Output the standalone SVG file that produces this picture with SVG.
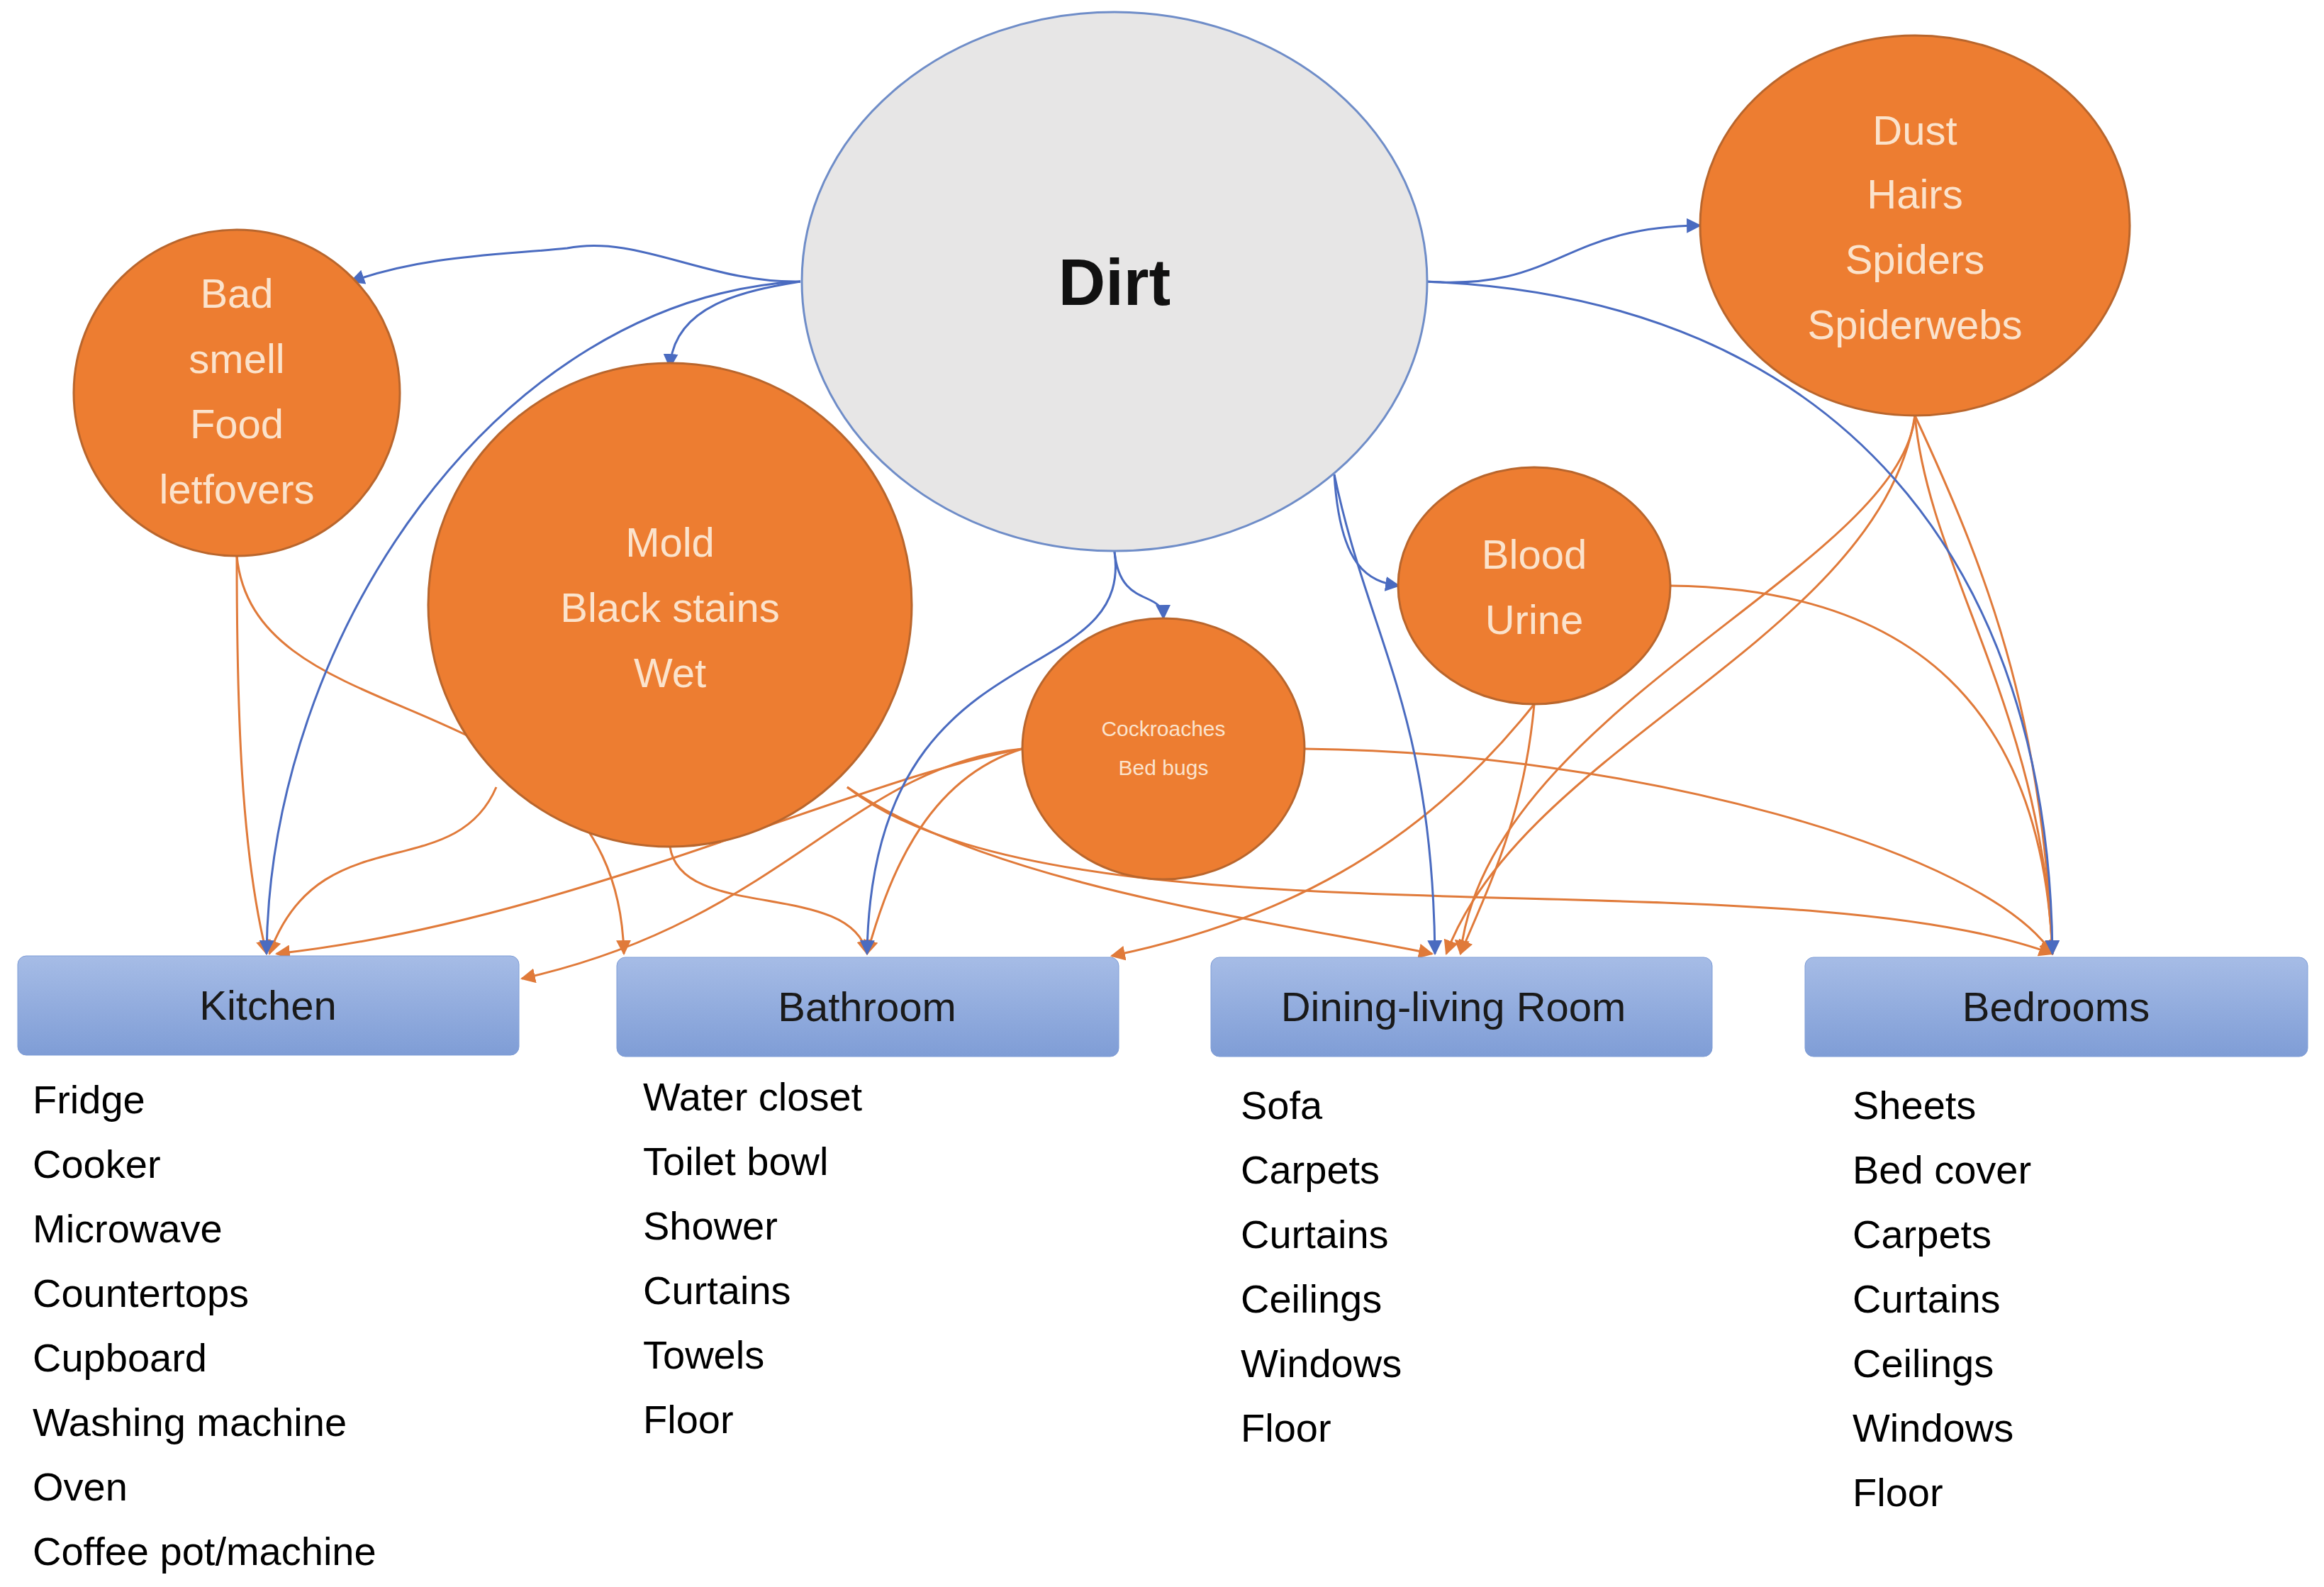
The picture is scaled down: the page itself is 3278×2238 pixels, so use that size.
<svg xmlns="http://www.w3.org/2000/svg" width="3278" height="2238" viewBox="0 0 3278 2238">
<style>
.o{fill:#ed7d31;stroke:#b9662d;stroke-width:3}
.ot{font-family:"Liberation Sans",Arial,sans-serif;font-size:58px;fill:#fbe3cc;text-anchor:middle}
.b{fill:#8eaadb;stroke:#6f8dc8;stroke-width:3}
.bt{font-family:"Liberation Sans",Arial,sans-serif;font-size:58px;fill:#1a1a1a;text-anchor:middle}
.lt{font-family:"Liberation Sans",Arial,sans-serif;font-size:56px;fill:#000}
.cb{fill:none;stroke:#4a6bc0;stroke-width:3;marker-end:url(#ab)}
.co{fill:none;stroke:#e07a3a;stroke-width:3;marker-end:url(#ao)}
</style>
<defs>
<marker id="ab" viewBox="0 0 10 10" refX="9" refY="5" markerWidth="7" markerHeight="7" orient="auto"><path d="M0,0L10,5L0,10z" fill="#4a6bc0"/></marker>
<marker id="ao" viewBox="0 0 10 10" refX="9" refY="5" markerWidth="7" markerHeight="7" orient="auto"><path d="M0,0L10,5L0,10z" fill="#e07a3a"/></marker>
<linearGradient id="g" x1="0" y1="0" x2="0" y2="1"><stop offset="0" stop-color="#a6bce6"/><stop offset="1" stop-color="#7f9dd6"/></linearGradient>
</defs>
<rect width="3278" height="2238" fill="#fff"/>
<g id="connectors">
<path class="co" d="M334,784 C334,1000 340,1200 376,1345"/>
<path class="co" d="M334,784 C360,1050 870,950 880,1345"/>
<path class="co" d="M700,1110 C640,1250 450,1150 380,1345"/>
<path class="co" d="M945,1194 C960,1300 1200,1240 1223,1345"/>
<path class="co" d="M1195,1110 C1400,1250 1800,1300 2020,1345"/>
<path class="co" d="M1195,1110 C1500,1350 2500,1200 2895,1345"/>
<path class="co" d="M1442,1056 C1200,1080 1100,1300 736,1380"/>
<path class="co" d="M1442,1056 C1300,1100 1250,1250 1223,1345"/>
<path class="co" d="M1840,1056 C2300,1060 2800,1200 2895,1345"/>
<path class="co" d="M1442,1056 C1200,1100 800,1300 390,1345"/>
<path class="co" d="M2164,993 C2150,1150 2100,1250 2060,1345"/>
<path class="co" d="M2356,826 C2700,830 2880,1000 2895,1345"/>
<path class="co" d="M2164,993 C2000,1200 1800,1300 1568,1348"/>
<path class="co" d="M2701,586 C2680,800 2100,1000 2060,1345"/>
<path class="co" d="M2701,586 C2650,900 2150,1050 2040,1345"/>
<path class="co" d="M2701,586 C2720,800 2880,1000 2895,1345"/>
<path class="co" d="M2701,586 C2800,800 2880,1000 2895,1345"/>
<path class="cb" d="M1129,397 C1000,400 900,330 800,350 C700,360 600,360 495,397"/>
<path class="cb" d="M1129,397 C1050,410 950,430 945,518"/>
<path class="cb" d="M1129,397 C700,420 380,900 376,1345"/>
<path class="cb" d="M1572,778 C1600,980 1230,880 1223,1345"/>
<path class="cb" d="M1572,778 C1580,860 1640,830 1641,872"/>
<path class="cb" d="M1882,669 C1890,800 1930,820 1973,826"/>
<path class="cb" d="M1882,669 C1930,900 2020,1000 2024,1345"/>
<path class="cb" d="M2011,397 C2200,410 2200,320 2398,318"/>
<path class="cb" d="M2011,397 C2600,420 2890,800 2895,1345"/>
</g>
<g id="dirt"><ellipse cx="1572" cy="397" rx="441" ry="380" fill="#e7e6e6" stroke="#6f8dc8" stroke-width="3"/><text x="1572" y="430" font-family="Liberation Sans,Arial,sans-serif" font-size="92" font-weight="bold" text-anchor="middle" fill="#111">Dirt</text></g>
<g id="badsmell"><circle class="o" cx="334" cy="554" r="230"/><text class="ot" x="334" y="434">Bad</text><text class="ot" x="334" y="526">smell</text><text class="ot" x="334" y="618">Food</text><text class="ot" x="334" y="710">letfovers</text></g>
<g id="mold"><circle class="o" cx="945" cy="853" r="341"/><text class="ot" x="945" y="785">Mold</text><text class="ot" x="945" y="877">Black stains</text><text class="ot" x="945" y="969">Wet</text></g>
<g id="cockroach"><ellipse class="o" cx="1641" cy="1056" rx="199" ry="184"/><text class="ot" style="font-size:30px" x="1641" y="1038">Cockroaches</text><text class="ot" style="font-size:30px" x="1641" y="1093">Bed bugs</text></g>
<g id="blood"><ellipse class="o" cx="2164" cy="826" rx="192" ry="167"/><text class="ot" x="2164" y="802">Blood</text><text class="ot" x="2164" y="894">Urine</text></g>
<g id="dust"><ellipse class="o" cx="2701" cy="318" rx="303" ry="268"/><text class="ot" x="2701" y="204">Dust</text><text class="ot" x="2701" y="294">Hairs</text><text class="ot" x="2701" y="386">Spiders</text><text class="ot" x="2701" y="478">Spiderwebs</text></g>
<g id="kitchen"><rect x="25" y="1348" width="707" height="140" rx="12" fill="url(#g)" stroke="#7f9dd6"/><text class="bt" x="378" y="1438">Kitchen</text>
<text class="lt" x="46" y="1570">Fridge</text><text class="lt" x="46" y="1661">Cooker</text><text class="lt" x="46" y="1752">Microwave</text><text class="lt" x="46" y="1843">Countertops</text><text class="lt" x="46" y="1934">Cupboard</text><text class="lt" x="46" y="2025">Washing machine</text><text class="lt" x="46" y="2116">Oven</text><text class="lt" x="46" y="2207">Coffee pot/machine</text></g>
<g id="bathroom"><rect x="870" y="1350" width="708" height="140" rx="12" fill="url(#g)" stroke="#7f9dd6"/><text class="bt" x="1223" y="1440">Bathroom</text>
<text class="lt" x="907" y="1566">Water closet</text><text class="lt" x="907" y="1657">Toilet bowl</text><text class="lt" x="907" y="1748">Shower</text><text class="lt" x="907" y="1839">Curtains</text><text class="lt" x="907" y="1930">Towels</text><text class="lt" x="907" y="2021">Floor</text></g>
<g id="dining"><rect x="1708" y="1350" width="707" height="140" rx="12" fill="url(#g)" stroke="#7f9dd6"/><text class="bt" x="2050" y="1440">Dining-living Room</text>
<text class="lt" x="1750" y="1578">Sofa</text><text class="lt" x="1750" y="1669">Carpets</text><text class="lt" x="1750" y="1760">Curtains</text><text class="lt" x="1750" y="1851">Ceilings</text><text class="lt" x="1750" y="1942">Windows</text><text class="lt" x="1750" y="2033">Floor</text></g>
<g id="bedrooms"><rect x="2546" y="1350" width="709" height="140" rx="12" fill="url(#g)" stroke="#7f9dd6"/><text class="bt" x="2900" y="1440">Bedrooms</text>
<text class="lt" x="2613" y="1578">Sheets</text><text class="lt" x="2613" y="1669">Bed cover</text><text class="lt" x="2613" y="1760">Carpets</text><text class="lt" x="2613" y="1851">Curtains</text><text class="lt" x="2613" y="1942">Ceilings</text><text class="lt" x="2613" y="2033">Windows</text><text class="lt" x="2613" y="2124">Floor</text></g>
</svg>
